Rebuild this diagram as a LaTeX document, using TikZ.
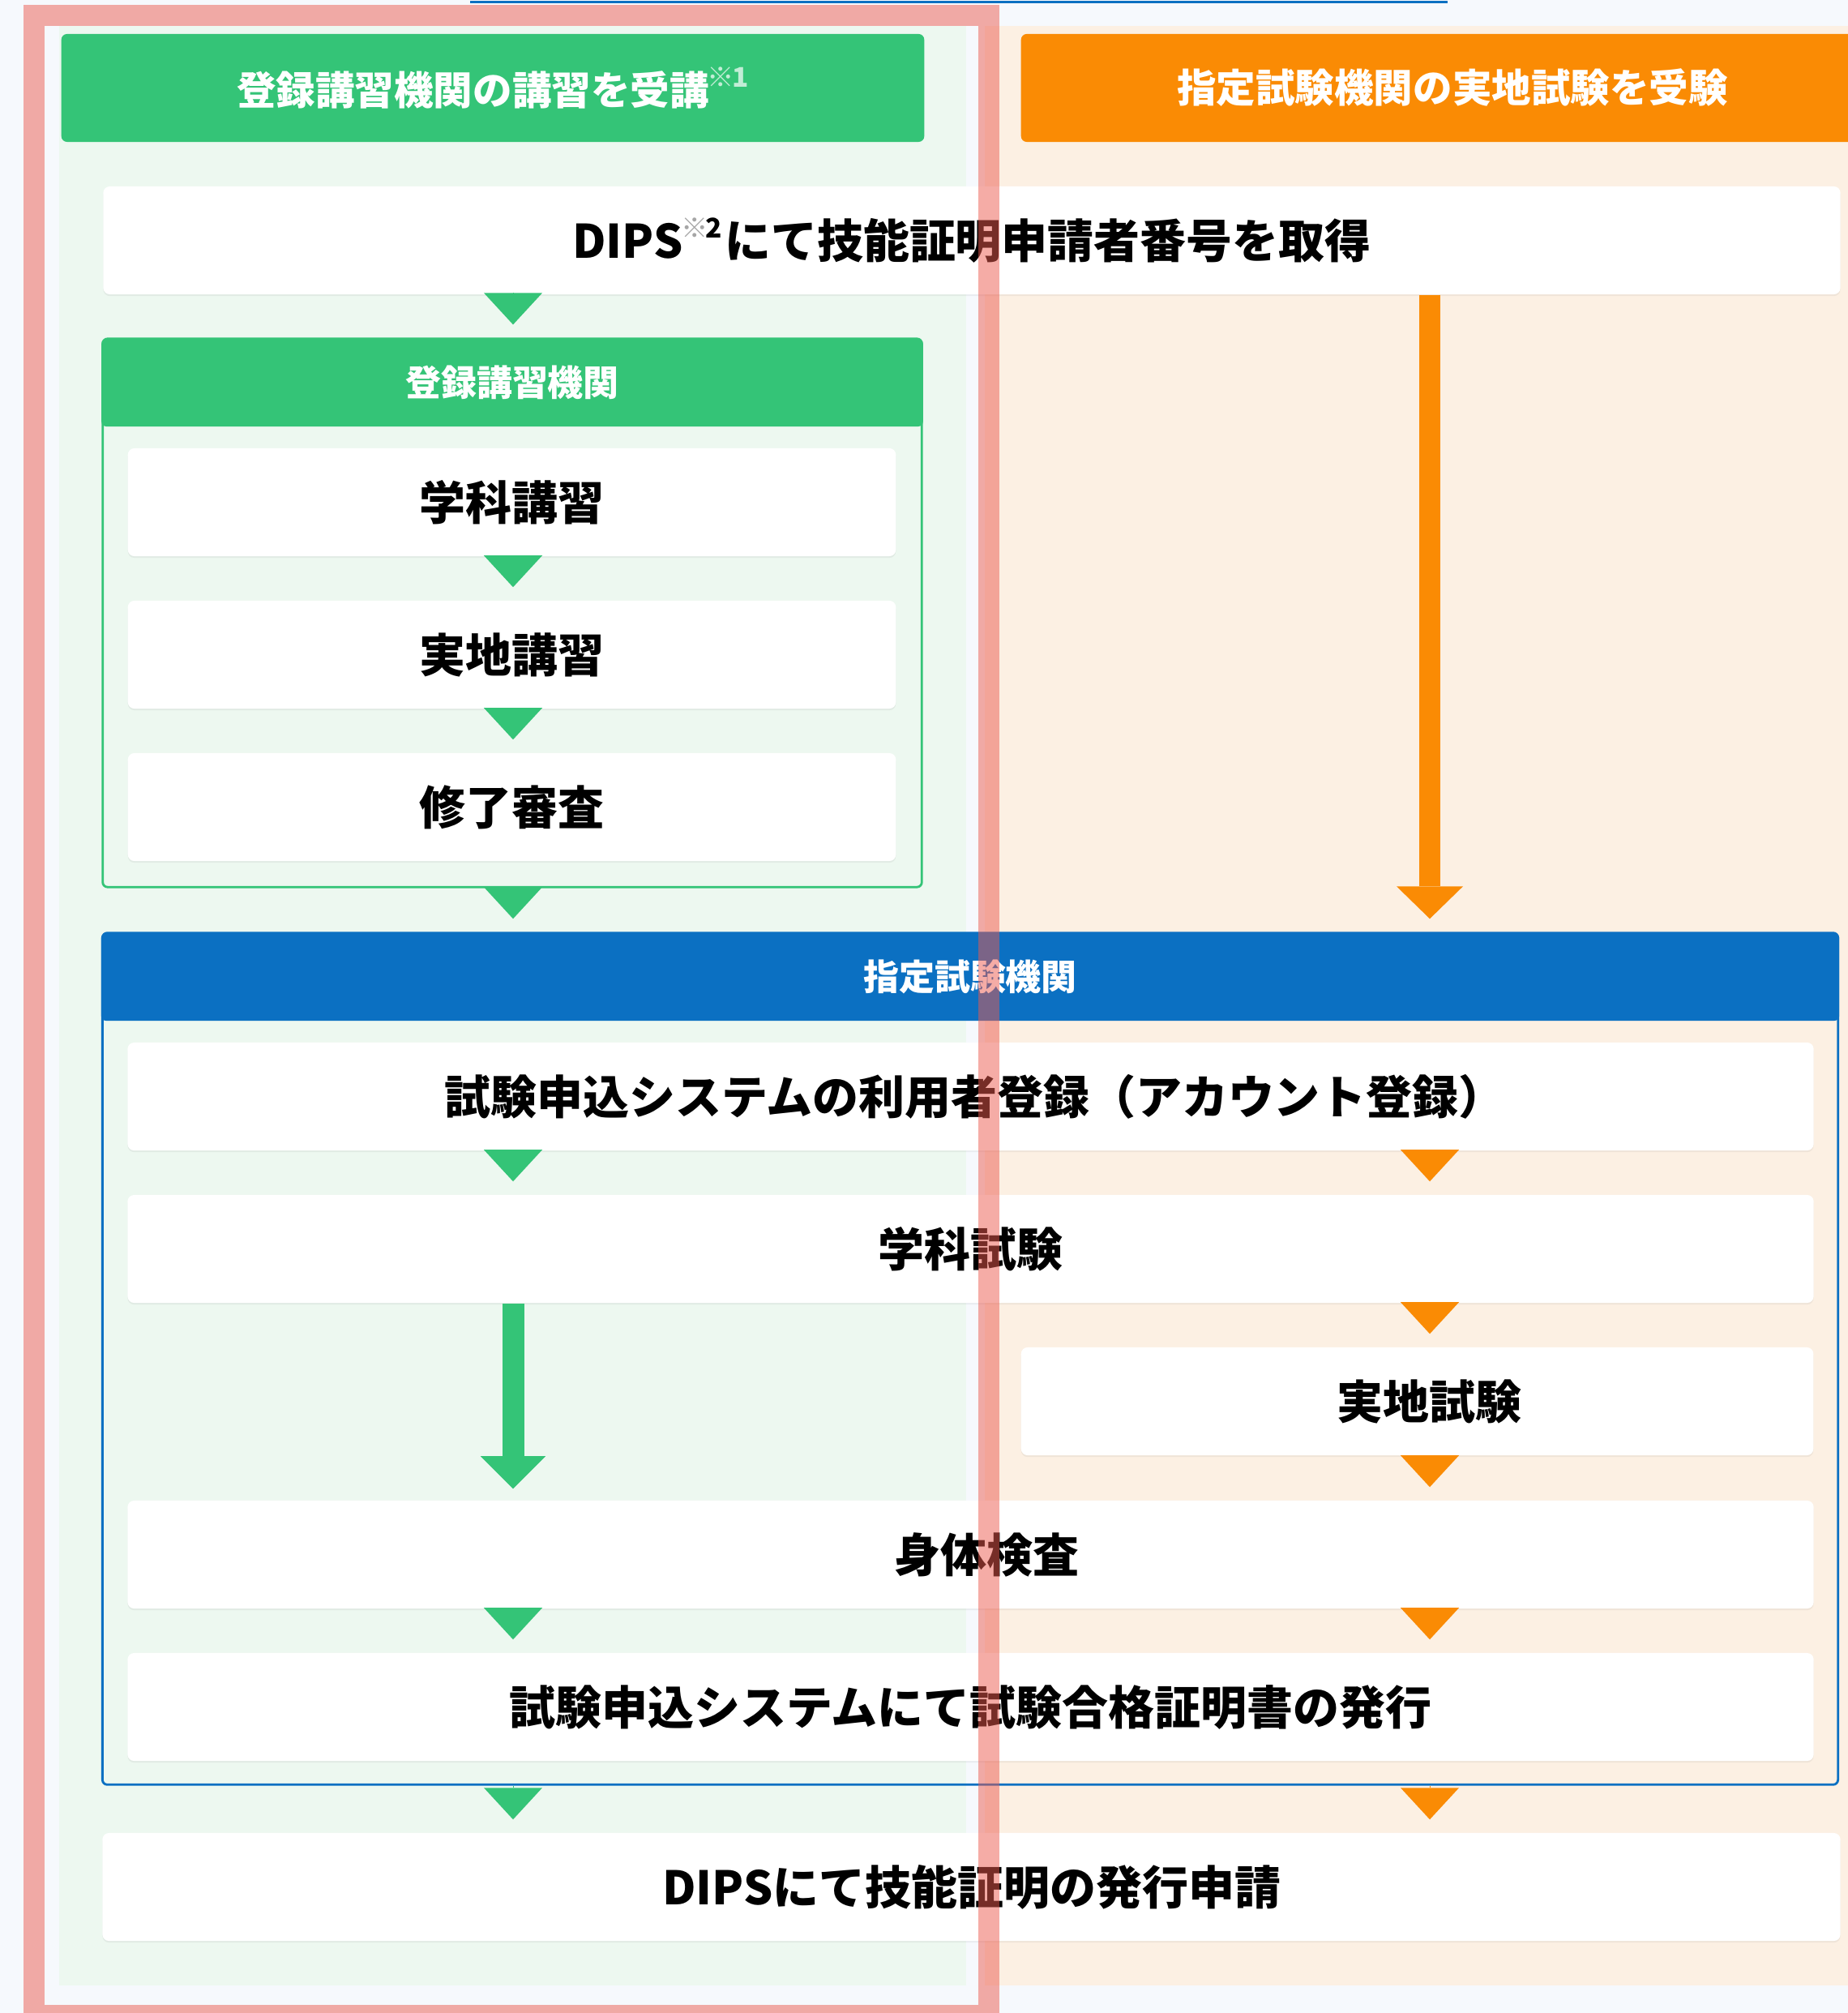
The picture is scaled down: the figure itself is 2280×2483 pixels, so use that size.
\documentclass[tikz,border=0pt]{standalone}
\usepackage{fontspec}
\setmainfont{Noto Sans CJK JP}
\usetikzlibrary{arrows.meta,shadows}
\definecolor{KGreen}{HTML}{34C477}
\definecolor{KOrange}{HTML}{FA8B04}
\definecolor{KBlue}{HTML}{0B70C2}
\definecolor{KGreenBg}{HTML}{EDF8F0}
\definecolor{KOrangeBg}{HTML}{FCF0E3}
\definecolor{KPage}{HTML}{F6F9FD}
\definecolor{KMark}{HTML}{EC5A4E}
\newcommand{\knote}[2]{\hspace{-0.04em}\raisebox{0.45em}{\fontsize{9.5}{10}\selectfont\textcolor{#1}{※}\kern-0.8pt#2}\hspace{0.05em}}

\begin{document}
\begin{tikzpicture}[x=0.01cm,y=-0.01cm,
    lane/.style={rectangle,inner sep=0pt,minimum width=#1,minimum height=24.15cm},
    colhead/.style={rectangle,inner sep=0pt,minimum width=10.64cm,minimum height=1.33cm,
                    rounded corners=0.07cm,text=white,font=\bfseries\fontsize{13.8}{16}\selectfont},
    stepbox/.style={rectangle,fill=white,inner sep=0pt,minimum height=1.33cm,
                    rounded corners=0.08cm,font=\bfseries\fontsize{16.2}{19}\selectfont,
                    drop shadow={shadow xshift=0pt,shadow yshift=-0.6pt,opacity=0.10}},
    grpframe/.style={rectangle,inner sep=0pt,rounded corners=0.06cm,line width=0.028cm},
    grphead/.style={rectangle,inner sep=0pt,minimum height=1.08cm,rounded corners=0.06cm,
                    text=white,font=\bfseries\fontsize{12.5}{15}\selectfont},
    gtri/.style={-{Triangle[length=0.39cm,width=0.72cm,line width=0pt]},KGreen,
                 line width=0.1pt,shorten >=0.16cm},
    otri/.style={-{Triangle[length=0.39cm,width=0.72cm,line width=0pt]},KOrange,
                 line width=0.1pt,shorten >=0.16cm},
    garr/.style={-{Triangle[length=0.40cm,width=0.80cm,line width=0pt]},KGreen,
                 line width=0.27cm,shorten >=0.14cm},
    oarr/.style={-{Triangle[length=0.40cm,width=0.82cm,line width=0pt]},KOrange,
                 line width=0.26cm,shorten >=0.16cm},
  ]
  \useasboundingbox (0,0) rectangle (2280,2483);
  \clip (0,0) rectangle (2280,2483);
  \fill[KPage] (0,0) rectangle (2280,2483);
  \draw[KBlue,line width=0.03cm] (580,3) -- (1786,3);

  % two lanes
  \node[lane=11.19cm,fill=KGreenBg]  (glane) at (632.5,1240.5) {};
  \node[lane=10.65cm,fill=KOrangeBg] (olane) at (1747.5,1240.5) {};
  \node[colhead,fill=KGreen]  (ghead) at (608,108.5)
       {登録講習機関の講習を受講\knote{white!70!KGreen}{\textcolor{white!70!KGreen}{1}}};
  \node[colhead,fill=KOrange] (ohead) at (1792,108.5) {指定試験機関の実地試験を受験};

  \coordinate (gx) at (633,0);
  \coordinate (ox) at (1764,0);

  \node[stepbox,minimum width=21.42cm] (dips) at (1199,296.5)
       {DIPS\knote{black!35}{2}にて技能証明申請者番号を取得};

  % registered course body
  \node[grpframe,draw=KGreen,minimum width=10.10cm,minimum height=6.76cm] (grp1) at (632,756) {};
  \node[grphead,fill=KGreen,minimum width=10.13cm] (grp1h) at (632,472) {登録講習機関};
  \node[stepbox,minimum width=9.47cm] (kgk) at (631.5,619.5) {学科講習};
  \node[stepbox,minimum width=9.47cm] (jck) at (631.5,807.5) {実地講習};
  \node[stepbox,minimum width=9.47cm] (shr) at (631.5,995.5) {修了審査};

  % designated exam body
  \node[grpframe,draw=KBlue,minimum width=21.40cm,minimum height=10.50cm] (grp2) at (1197,1676) {};
  \node[grphead,fill=KBlue,minimum width=21.43cm] (grp2h) at (1197,1205) {指定試験機関};
  \node[stepbox,minimum width=20.79cm] (acct) at (1197.5,1352.5)
       {\hspace*{0.1cm}試験申込システムの利用者登録（アカウント登録）};
  \node[stepbox,minimum width=20.79cm] (gks)  at (1197.5,1540.5) {学科試験};
  \node[stepbox,minimum width=9.77cm]  (jcs)  at (1748.5,1728.5) {\hspace*{0.3cm}実地試験};
  \node[stepbox,minimum width=20.79cm] (sks)  at (1197.5,1917.5) {\hspace*{0.4cm}身体検査};
  \node[stepbox,minimum width=20.79cm] (cert) at (1197.5,2105.5)
       {試験申込システムにて試験合格証明書の発行};

  \node[stepbox,minimum width=21.43cm] (issue) at (1198.5,2327.5) {DIPSにて技能証明の発行申請};

  % green flow
  \draw[gtri] (dips.south -| gx) -- (grp1.north -| gx);
  \draw[gtri] (kgk.south -| gx)  -- (jck.north -| gx);
  \draw[gtri] (jck.south -| gx)  -- (shr.north -| gx);
  \draw[gtri] (grp1.south -| gx) -- (grp2.north -| gx);
  \draw[gtri] (acct.south -| gx) -- (gks.north -| gx);
  \draw[garr] (gks.south -| gx)  -- (sks.north -| gx);
  \draw[gtri] (sks.south -| gx)  -- (cert.north -| gx);
  \draw[gtri] (grp2.south -| gx) -- (issue.north -| gx);

  % orange flow
  \draw[oarr] (dips.south -| ox) -- (grp2.north -| ox);
  \draw[otri] (acct.south -| ox) -- (gks.north -| ox);
  \draw[otri] (gks.south -| ox)  -- (jcs.north -| ox);
  \draw[otri] (jcs.south -| ox)  -- (sks.north -| ox);
  \draw[otri] (sks.south -| ox)  -- (cert.north -| ox);
  \draw[otri] (grp2.south -| ox) -- (issue.north -| ox);

  % highlight frame
  \draw[KMark,draw opacity=0.5,line width=0.26cm] (42,19) rectangle (1220,2486);
\end{tikzpicture}
\end{document}
